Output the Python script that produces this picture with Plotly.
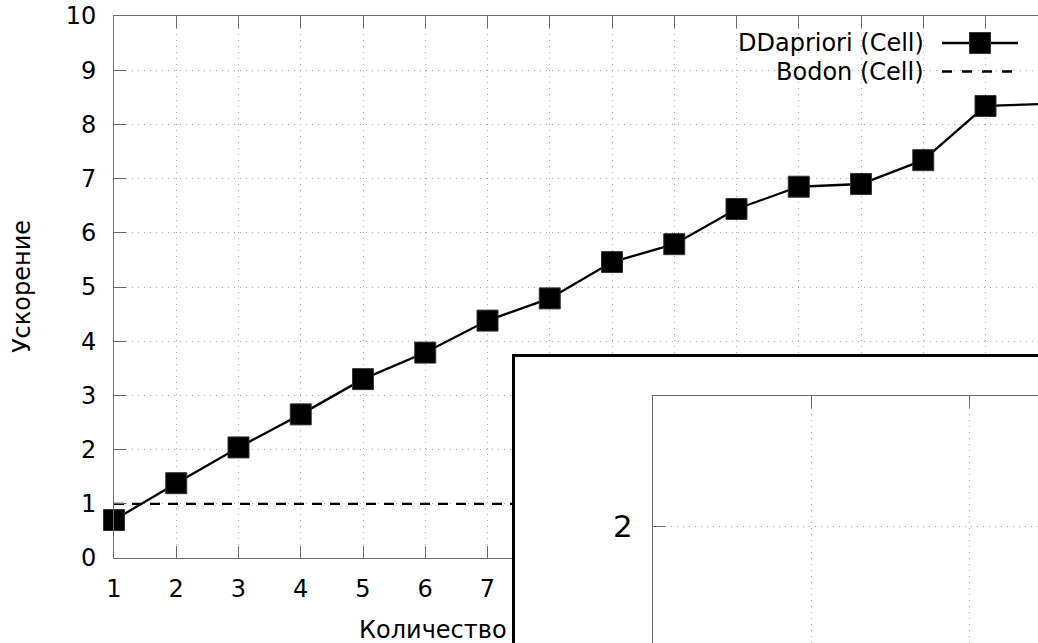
import plotly.graph_objects as go

# ---------------- data ----------------
cores = [1, 2, 3, 4, 5, 6, 7, 8, 9, 10, 11, 12, 13, 14, 15, 16]
ddapriori = [0.70, 1.38, 2.04, 2.65, 3.30, 3.79, 4.38, 4.79, 5.46, 5.79, 6.44, 6.85, 6.90, 7.34, 8.34, 8.38]
bodon = [1, 1, 1, 1, 1, 1, 1, 1, 1, 1, 1, 1, 1, 1, 1, 1]
x_ticks = [1, 2, 3, 4, 5, 6, 7, 8, 9, 10, 11, 12, 13, 14, 15, 16]
y_ticks = [0, 1, 2, 3, 4, 5, 6, 7, 8, 9, 10]
series_names = ["DDapriori (Cell)", "Bodon (Cell)"]
x_title = "Количество"
y_title = "Ускорение"

W, H = 1038, 643
FONT = "DejaVu Sans"
GRAY = "#6a6a6a"
GRID = "#a8a8a8"
LW = 2.3


def fx(px):
    return px / W


def fy(py):
    return 1 - py / H


fig = go.Figure()

fig.add_trace(go.Scatter(
    x=cores, y=bodon, mode="lines", name=series_names[1],
    line=dict(color="black", width=LW, dash="10px,8px"),
    xaxis="x", yaxis="y", showlegend=False, hoverinfo="skip"))
fig.add_trace(go.Scatter(
    x=cores, y=ddapriori, mode="lines+markers", name=series_names[0],
    line=dict(color="black", width=LW),
    marker=dict(symbol="square", size=21, color="black",
                line=dict(color="#333333", width=1)),
    cliponaxis=False,
    xaxis="x", yaxis="y", showlegend=False))

# inset subplots (empty)
fig.add_trace(go.Scatter(x=[], y=[], xaxis="x2", yaxis="y2", showlegend=False, hoverinfo="skip"))
fig.add_trace(go.Scatter(x=[], y=[], xaxis="x3", yaxis="y3", showlegend=False, hoverinfo="skip"))

x0px, x1px = 114, 1038
y0px, y1px = 558, 16
xspan = 62.25

fig.update_layout(
    width=W, height=H,
    margin=dict(l=0, r=0, t=0, b=0, pad=0),
    paper_bgcolor="white", plot_bgcolor="white",
    font=dict(family=FONT, size=24, color="black"),
    showlegend=False,
    xaxis=dict(
        domain=[fx(x0px), 1], range=[1, 1 + (x1px - x0px) / xspan],
        tickvals=x_ticks, ticks="inside", ticklen=12, tickcolor=GRAY, tickwidth=1,
        showline=True, linecolor=GRAY, linewidth=1, mirror="ticks",
        showgrid=True, gridcolor=GRID, griddash="1px,5px", gridwidth=1,
        zeroline=False, automargin=False, ticklabelstandoff=9,
        tickfont=dict(size=24, family=FONT, color="black")),
    yaxis=dict(
        domain=[fy(y0px), fy(y1px)], range=[0, 10],
        tickvals=y_ticks, ticks="inside", ticklen=12, tickcolor=GRAY, tickwidth=1,
        showline=True, linecolor=GRAY, linewidth=1, mirror=False,
        showgrid=True, gridcolor=GRID, griddash="1px,5px", gridwidth=1,
        zeroline=False, automargin=False, ticklabelstandoff=12,
        tickfont=dict(size=24, family=FONT, color="black")),
    # outer inset box
    xaxis2=dict(domain=[fx(515), 1], range=[0, 1], anchor="y2", side="top",
                showline=True, linecolor="black", linewidth=2.5,
                showgrid=False, zeroline=False, showticklabels=False, ticks=""),
    yaxis2=dict(domain=[0, fy(357)], range=[0, 1], anchor="x2",
                showline=True, linecolor="black", linewidth=2.5,
                showgrid=False, zeroline=False, showticklabels=False, ticks=""),
    # inner inset plot
    xaxis3=dict(domain=[fx(653), 1], range=[1, 1 + (1038 - 653) / 158.0], anchor="y3",
                side="top", dtick=1, tick0=0,
                showline=True, linecolor=GRAY, linewidth=1,
                ticks="inside", ticklen=12, tickcolor=GRAY,
                showgrid=True, gridcolor=GRID, griddash="1px,5px",
                zeroline=False, showticklabels=False, automargin=False),
    yaxis3=dict(domain=[0, fy(396)], range=[2 - (643 - 526) / 158.0, 2 + (526 - 396) / 158.0],
                anchor="x3", dtick=1, tick0=0,
                showline=True, linecolor=GRAY, linewidth=1,
                ticks="inside", ticklen=12, tickcolor=GRAY,
                showgrid=True, gridcolor=GRID, griddash="1px,5px",
                zeroline=False, automargin=False, ticklabelstandoff=13,
                tickfont=dict(size=31, family=FONT, color="black")),
)

# white background of inset (drawn in inset subplot's lower layer, above main traces)
fig.add_shape(type="rect", xref="x2", yref="y2", x0=0, x1=1, y0=0, y1=1,
              fillcolor="white", line=dict(width=0), layer="below")

# axis titles
fig.add_annotation(text=y_title, x=fx(22), y=fy(287), xref="paper", yref="paper",
                   textangle=-90, showarrow=False, xanchor="center", yanchor="middle",
                   font=dict(size=24, family=FONT, color="black"))
fig.add_annotation(text=x_title, x=fx(357), y=fy(630), xref="paper", yref="paper",
                   showarrow=False, xanchor="left", yanchor="middle",
                   font=dict(size=24, family=FONT, color="black"))

# custom legend (text left of sample)
leg_rows = [43, 71.5]
for name, ry in zip(series_names, leg_rows):
    fig.add_annotation(text=name, x=fx(926), y=fy(ry), xref="paper", yref="paper",
                       showarrow=False, xanchor="right", yanchor="middle",
                       font=dict(size=24, family=FONT, color="black"))
fig.add_shape(type="line", xref="paper", yref="paper", x0=fx(942), x1=fx(1018),
              y0=fy(43), y1=fy(43), line=dict(color="black", width=LW), layer="above")
fig.add_shape(type="rect", xref="paper", yref="paper", x0=fx(969.5), x1=fx(990.5),
              y0=fy(53.5), y1=fy(32.5), fillcolor="black", line=dict(color="#333333", width=1),
              layer="above")
fig.add_shape(type="line", xref="paper", yref="paper", x0=fx(942), x1=fx(1012),
              y0=fy(71.5), y1=fy(71.5), line=dict(color="black", width=LW, dash="10px,10px"),
              layer="above")

fig.write_html("out.html")
